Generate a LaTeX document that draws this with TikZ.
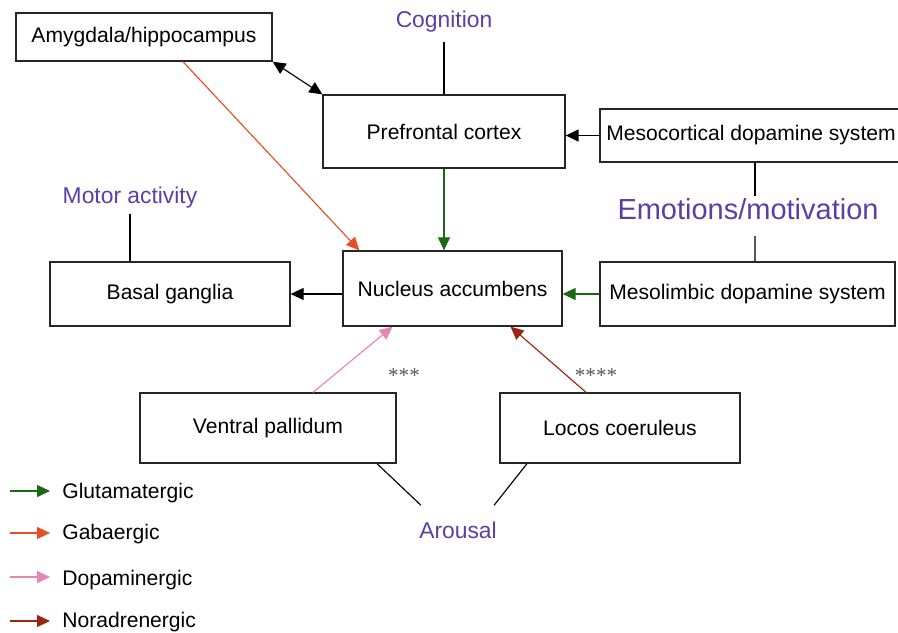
\documentclass[tikz,border=0pt]{standalone}
\usepackage{fontspec}
\setmainfont{Liberation Sans}
\newfontfamily\starfont{Liberation Serif}
\usepackage{xcolor}
\definecolor{glu}{HTML}{1B6A12}
\definecolor{gaba}{HTML}{E84E24}
\definecolor{dopa}{HTML}{E985B5}
\definecolor{nora}{HTML}{9A2512}
\definecolor{funcpurple}{HTML}{5A40A6}
\definecolor{stargray}{HTML}{555555}
\usepackage{tikz}
\usetikzlibrary{arrows.meta,positioning,calc}

\begin{document}
\begin{tikzpicture}[x=0.02cm,y=-0.02cm,
  region/.style={rectangle,draw=black!85,line width=0.75pt,fill=white,
                 inner sep=0pt,font=\fontsize{12}{14}\selectfont},
  func/.style={inner sep=0pt,font=\fontsize{13}{15}\selectfont\color{funcpurple}},
  stars/.style={inner sep=0pt,font=\starfont\fontsize{12}{14}\selectfont\color{stargray}},
  legtext/.style={anchor=west,inner sep=0pt,font=\fontsize{12}{14}\selectfont},
  tract/.style={-{Triangle[length=2.6mm,width=2.4mm]},line width=0.65pt},
  link/.style={line width=0.65pt}]
\useasboundingbox (0,0) rectangle (898,632);
% brain regions
\node[region,minimum width=5.12cm,minimum height=0.96cm] (amy) at (144,37) {Amygdala/hippocampus};
\node[region,minimum width=4.84cm,minimum height=1.46cm] (pfc) at (444,131.5) {Prefrontal cortex};
\node[region,minimum width=6.04cm,minimum height=1.06cm] (meso) at (751,135.5) {Mesocortical dopamine system};
\node[region,minimum width=4.8cm,minimum height=1.28cm] (bg) at (170,294) {Basal ganglia};
\node[region,minimum width=4.38cm,minimum height=1.5cm] (nacc) at (452.5,288.5) {Nucleus accumbens};
\node[region,minimum width=5.9cm,minimum height=1.28cm] (ml) at (747.5,294) {Mesolimbic dopamine system};
\node[region,minimum width=5.12cm,minimum height=1.4cm] (vp) at (268,428) {Ventral pallidum};
\node[region,minimum width=4.8cm,minimum height=1.4cm] (lc) at (620,428) {Locos coeruleus};
% functions
\node[func] (cog) at (444,22) {Cognition};
\node[func] (motor) at (130,198) {Motor activity};
\node[func,font=\fontsize{16.5}{19}\selectfont\color{funcpurple}] (emo) at (748,209) {Emotions/motivation};
\node[func] (arousal) at (458,530) {Arousal};
\node[stars] (vpstars) at (404,376) {***};
\node[stars] (lcstars) at (596,376) {****};
% plain links
\draw[link] ($(cog.south)+(0,9)$) -- (pfc.north);
\draw[link] ($(motor.south)+(0,5)$) -- (motor.south |- bg.north);
\draw[link] ($(meso.south)+(4,0)$) -- ($(emo.north)+(7,-2)$);
\draw[link] ($(emo.south)+(7,16)$) -- ($(ml.north)+(7.5,0)$);
\draw[link] ($(vp.south)+(109,0)$) -- ($(arousal.north west)+(2,-16)$);
\draw[link] ($(lc.south)+(-93,0)$) -- ($(arousal.north east)+(-3,-16)$);
% projections
\draw[tract,{Triangle[length=2.6mm,width=2.4mm]}-{Triangle[length=2.6mm,width=2.4mm]}]
  (amy.south east) -- (pfc.north west);
\draw[tract,gaba] ($(amy.south)+(39,0)$) -- ($(nacc.north west)+(17,0)$);
\draw[tract,glu] (pfc.south) -- (pfc.south |- nacc.north);
\draw[tract] (meso.west) -- (meso.west -| pfc.east);
\draw[tract] (nacc.west |- bg.east) -- (bg.east);
\draw[tract,glu] (ml.west) -- (ml.west -| nacc.east);
\draw[tract,dopa] ($(vp.north)+(45,0)$) -- ($(nacc.south)+(-60,0)$);
\draw[tract,nora] ($(lc.north)+(-34,0)$) -- ($(nacc.south)+(58,0)$);
% key
\node[legtext] (kglu) at (62,493) {Glutamatergic};
\node[legtext] (kgaba) at (62,534) {Gabaergic};
\node[legtext] (kdopa) at (62,580) {Dopaminergic};
\node[legtext] (knora) at (62,622) {Noradrenergic};
\draw[tract,glu] ($(kglu.west)+(-52,-2)$) -- ($(kglu.west)+(-12,-2)$);
\draw[tract,gaba] ($(kgaba.west)+(-52,-1)$) -- ($(kgaba.west)+(-12,-1)$);
\draw[tract,dopa] ($(kdopa.west)+(-52,-3)$) -- ($(kdopa.west)+(-12,-3)$);
\draw[tract,nora] ($(knora.west)+(-52,-1)$) -- ($(knora.west)+(-12,-1)$);
\end{tikzpicture}
\end{document}
